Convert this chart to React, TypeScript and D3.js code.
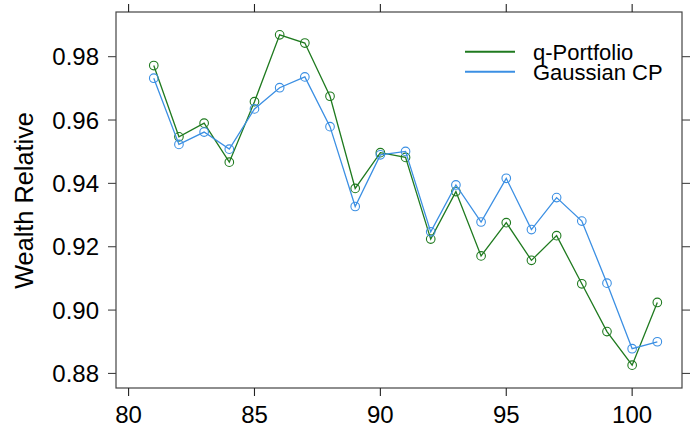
import React from "react";
import * as d3 from "d3";

const xs = [81, 82, 83, 84, 85, 86, 87, 88, 89, 90, 91, 92, 93, 94, 95, 96, 97, 98, 99, 100, 101];
const qPortfolio = [0.9772, 0.9547, 0.959, 0.9467, 0.9658, 0.9869, 0.9843, 0.9675, 0.9384, 0.9497, 0.9482, 0.9224, 0.9374, 0.9171, 0.9276, 0.9157, 0.9235, 0.9083, 0.8932, 0.8826, 0.9024];
const gaussianCP = [0.9732, 0.9523, 0.9562, 0.9508, 0.9635, 0.9702, 0.9736, 0.9579, 0.9327, 0.949, 0.9501, 0.9247, 0.9395, 0.9278, 0.9416, 0.9254, 0.9355, 0.9281, 0.9085, 0.8878, 0.89];
const xTicks = [80, 85, 90, 95, 100];
const yTicks = [0.88, 0.9, 0.92, 0.94, 0.96, 0.98];
const seriesNames = ["q-Portfolio", "Gaussian CP"];
const seriesColors = ["#1f7a1f", "#3b8fe3"];

const W = 697, H = 431;
const L = 116, R = 682, T = 12, B = 388;

export default function App() {
  const x = d3.scaleLinear().domain([79.5, 101.98]).range([L, R]);
  const y = d3.scaleLinear().domain([0.8754, 0.9941]).range([B, T]);
  const line = d3.line<number>().x((_, i) => x(xs[i])).y((d) => y(d));
  const series = [qPortfolio, gaussianCP];
  const font = "'Liberation Sans', Arial, Helvetica, sans-serif";
  return (
    <svg width={W} height={H} style={{ position: "absolute", left: 0, top: 0, background: "#fff" }} fontFamily={font}>
      <rect x={0} y={0} width={W} height={H} fill="#fff" />
      {series.map((s, k) => (
        <g key={k}>
          <path d={line(s) || ""} fill="none" stroke={seriesColors[k]} strokeWidth={1.3} />
          {s.map((v, i) => (
            <circle key={i} cx={x(xs[i])} cy={y(v)} r={4.3} fill="none" stroke={seriesColors[k]} strokeWidth={1.1} />
          ))}
        </g>
      ))}
      <rect x={L} y={T} width={R - L} height={B - T} fill="none" stroke="#444" strokeWidth={1.2} />
      {xTicks.map((t) => (
        <g key={t}>
          <line x1={x(t)} x2={x(t)} y1={B} y2={B + 8} stroke="#222" strokeWidth={1.1} />
          <line x1={x(t)} x2={x(t)} y1={T} y2={T - 8} stroke="#222" strokeWidth={1.1} />
          <text x={x(t)} y={423} textAnchor="middle" fontSize={24} fill="#000">{t}</text>
        </g>
      ))}
      {yTicks.map((t) => (
        <g key={t}>
          <line x1={L} x2={L - 8} y1={y(t)} y2={y(t)} stroke="#444" strokeWidth={1.1} />
          <line x1={R} x2={R + 8} y1={y(t)} y2={y(t)} stroke="#444" strokeWidth={1.1} />
          <text x={99} y={y(t)} dy="0.36em" textAnchor="end" fontSize={24} fill="#000">{t.toFixed(2)}</text>
        </g>
      ))}
      <text transform={`translate(33,200.5) rotate(-90)`} textAnchor="middle" fontSize={25.3} fill="#000">Wealth Relative</text>
      {seriesNames.map((n, k) => (
        <g key={n}>
          <line x1={465} x2={515} y1={51.7 + k * 20} y2={51.7 + k * 20} stroke={seriesColors[k]} strokeWidth={2} />
          <text x={533} y={51.7 + k * 20} dy="0.36em" fontSize={22} fill="#000">{n}</text>
        </g>
      ))}
    </svg>
  );
}
